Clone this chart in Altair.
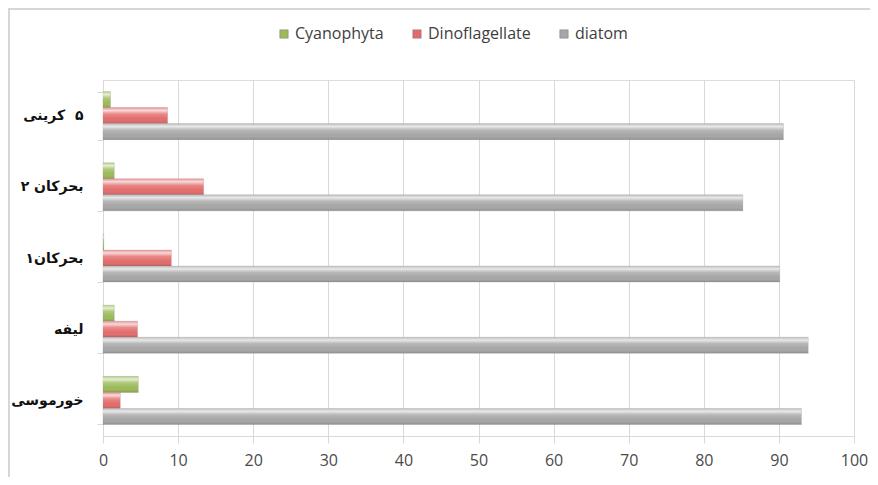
import altair as alt
import pandas as pd

stations = ["کرینی\u00a0 \u200e۵", "۲ بحرکان", "۱بحرکان", "لیفه", "خورموسی"]
series = ["Cyanophyta", "Dinoflagellate", "diatom"]
cyanophyta = [1.0, 1.5, 0.1, 1.5, 4.7]
dinoflagellate = [8.6, 13.4, 9.1, 4.6, 2.3]
diatom = [90.6, 85.2, 90.1, 93.9, 93.0]
colors = ["#9BBB59", "#E36C6C", "#A6A6A6"]
x_ticks = [0, 10, 20, 30, 40, 50, 60, 70, 80, 90, 100]

rows = []
for i, s in enumerate(stations):
    for name, vals in zip(series, [cyanophyta, dinoflagellate, diatom]):
        rows.append({"station": s, "group": name, "value": vals[i]})
df = pd.DataFrame(rows)

W, H = 751, 356
PL, PT, PR, PB = 95, 72, 16, 41

y_enc = alt.Y("station:N", sort=stations, title=None,
              scale=alt.Scale(paddingInner=0.325, paddingOuter=0.1625),
              axis=alt.Axis(tickBand="extent", tickSize=6, tickColor="#D9D9D9",
                            domainColor="#D9D9D9", labelFont="DejaVu Sans",
                            labelFontWeight="bold", labelFontSize=14,
                            labelColor="#111111", labelPadding=14, grid=False))
yoff_enc = alt.YOffset("group:N", sort=series, scale=alt.Scale(domain=series, paddingInner=0, paddingOuter=0))
x_enc = alt.X("value:Q", title=None,
              scale=alt.Scale(domain=[0, 100], nice=False),
              axis=alt.Axis(values=x_ticks, grid=True, gridColor="#D9D9D9",
                            domainColor="#D9D9D9", tickColor="#D9D9D9", tickSize=7,
                            labelFont="Open Sans", labelFontSize=16, labelColor="#4a4a4a",
                            labelPadding=9, labelFlush=False))

base = alt.Chart(df).mark_bar(stroke="#8a8a8a", strokeWidth=0.4, strokeOpacity=0.6).encode(
    y=y_enc, yOffset=yoff_enc, x=x_enc,
    color=alt.Color("group:N", sort=series,
                    scale=alt.Scale(domain=series, range=colors),
                    legend=alt.Legend(title=None, orient="none", direction="horizontal",
                                      legendX=173, legendY=-54, symbolType="square",
                                      symbolSize=70, symbolStrokeWidth=0.5,
                                      symbolStrokeColor="#777777",
                                      labelFont="Open Sans", labelFontSize=16,
                                      labelColor="#404040", columnPadding=25,
                                      labelOffset=3)),
)

shine = alt.Gradient(
    gradient="linear", x1=0, x2=0, y1=0, y2=1,
    stops=[
        alt.GradientStop(color="rgba(255,255,255,0.25)", offset=0),
        alt.GradientStop(color="rgba(255,255,255,0.75)", offset=0.18),
        alt.GradientStop(color="rgba(255,255,255,0.2)", offset=0.4),
        alt.GradientStop(color="rgba(255,255,255,0.0)", offset=0.7),
        alt.GradientStop(color="rgba(0,0,0,0.15)", offset=1),
    ],
)
gloss = alt.Chart(df).mark_bar(color=shine).encode(y=y_enc, yOffset=yoff_enc, x=x_enc)

frame_df = pd.DataFrame({"a": [0]})
left_rule = alt.Chart(frame_df).mark_rule(color="#D6D6D6", strokeWidth=2).encode(
    x=alt.value(-94), y=alt.value(-72), y2=alt.value(H + PB))
top_rule = alt.Chart(frame_df).mark_rule(color="#D6D6D6", strokeWidth=2).encode(
    y=alt.value(-71), x=alt.value(-95), x2=alt.value(W + PR))

chart = alt.layer(base, gloss, left_rule, top_rule).properties(
    width=W, height=H,
    autosize=alt.AutoSizeParams(type="none"),
    padding={"left": PL, "top": PT, "right": PR, "bottom": PB},
).configure_view(stroke=None).configure(background="white")

chart.save("out.html", embed_options={"renderer": "svg", "actions": False})
